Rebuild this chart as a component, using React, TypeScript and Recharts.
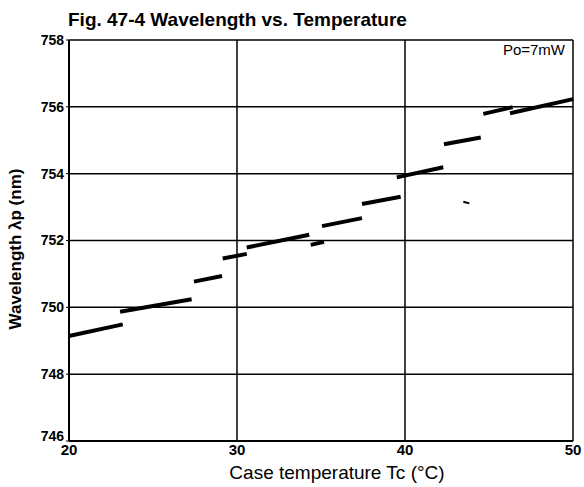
import { LineChart, Line, XAxis, YAxis, CartesianGrid } from 'recharts'

// mode-hop segments: start/end temperature (°C) and wavelength (nm)
const TEMP_START = [20.0, 23.04, 27.44, 29.15, 30.58, 34.39, 35.06, 37.44, 39.51, 42.32, 44.66, 46.25, 43.47]
const TEMP_END = [23.2, 27.3, 29.11, 30.58, 34.3, 35.18, 37.44, 39.74, 42.28, 44.51, 46.41, 50.0, 43.83]
const WL_START = [749.14, 749.87, 750.77, 751.46, 751.79, 751.87, 752.43, 753.09, 753.89, 754.88, 755.79, 755.81, 753.16]
const WL_END = [749.49, 750.24, 750.94, 751.6, 752.17, 751.96, 752.67, 753.31, 754.19, 755.08, 755.99, 756.23, 753.11]

const X_TICKS = [20, 30, 40, 50]
const Y_TICKS = [746, 748, 750, 752, 754, 756, 758]

const FONT = '"Liberation Sans", Arial, Helvetica, sans-serif'

const segments = TEMP_START.map((t, i) => [
  { t, wl: WL_START[i] },
  { t: TEMP_END[i], wl: WL_END[i] },
])

// y tick: bottom label sits a little higher so it clears the "20"
function YTick(props: any) {
  const { x, y, payload } = props
  const lift = payload.value === Y_TICKS[0] ? -5 : 0
  return (
    <text x={x} y={y + lift} dy="0.355em" textAnchor="end" fontSize={14} fontWeight={700} fill="#000" fontFamily={FONT}>
      {payload.value}
    </text>
  )
}

export default function App() {
  return (
    <div style={{ position: 'absolute', left: 0, top: 0, width: 584, height: 487, background: '#fff', fontFamily: FONT }}>
      <LineChart width={584} height={487} margin={{ top: 40, right: 11, left: 0, bottom: 0 }}>
        <CartesianGrid stroke="#000" strokeWidth={1.5} horizontalValues={Y_TICKS} verticalValues={X_TICKS} />
        <XAxis
          type="number"
          dataKey="t"
          domain={[20, 50]}
          ticks={X_TICKS}
          allowDuplicatedCategory={false}
          height={46}
          tickSize={0}
          tickMargin={3}
          axisLine={{ stroke: '#000', strokeWidth: 2 }}
          tick={{ fontSize: 15, fontWeight: 700, fill: '#000', fontFamily: FONT }}
        />
        <YAxis
          type="number"
          domain={[746, 758]}
          ticks={Y_TICKS}
          width={69}
          tickSize={3}
          tickMargin={2}
          axisLine={{ stroke: '#000', strokeWidth: 2 }}
          tickLine={{ stroke: '#000' }}
          tick={<YTick />}
        />
        {segments.map((seg, i) => (
          <Line
            key={i}
            data={seg}
            dataKey="wl"
            stroke="#000"
            strokeWidth={i === segments.length - 1 ? 2 : 4}
            dot={false}
            activeDot={false}
            isAnimationActive={false}
          />
        ))}
      </LineChart>
      <svg width={584} height={487} style={{ position: 'absolute', left: 0, top: 0, pointerEvents: 'none' }}>
        <text x={68} y={26} fontSize={19} fontWeight={700} fill="#000" fontFamily={FONT}>
          Fig. 47-4 Wavelength vs. Temperature
        </text>
        <text x={565} y={55} fontSize={15} textAnchor="end" fill="#000" fontFamily={FONT}>
          Po=7mW
        </text>
        <text x={337} y={479} fontSize={19} textAnchor="middle" fill="#000" fontFamily={FONT}>
          Case temperature Tc (°C)
        </text>
        <text
          x={21}
          y={249}
          fontSize={17}
          fontWeight={700}
          textAnchor="middle"
          fill="#000"
          fontFamily={FONT}
          transform="rotate(-90 21 249)"
        >
          Wavelength λp (nm)
        </text>
      </svg>
    </div>
  )
}
